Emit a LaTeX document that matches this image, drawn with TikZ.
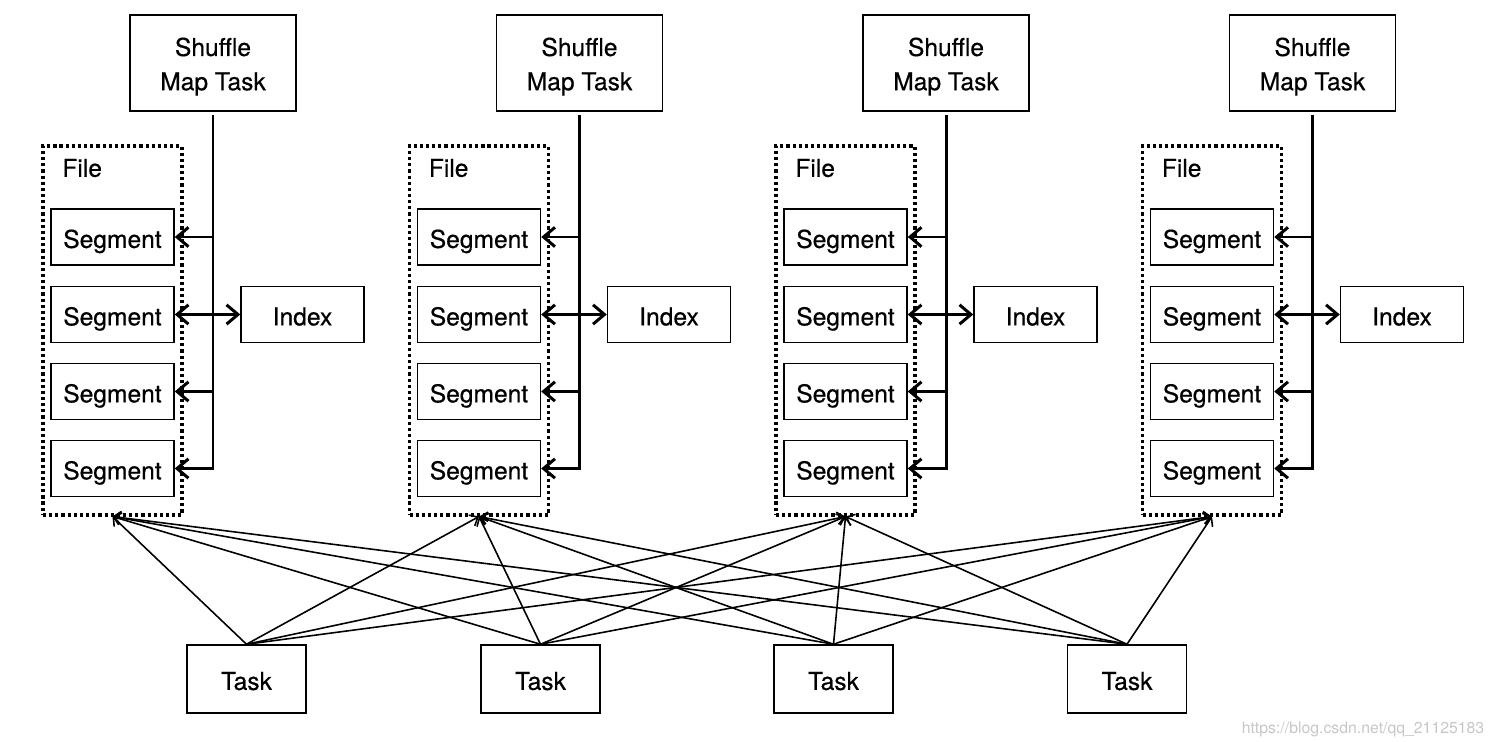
\documentclass[tikz,border=0pt]{standalone}
\usepackage{fontspec}
\setmainfont{TeX Gyre Heros}[FakeBold=0.5]
\newfontfamily\markfont{TeX Gyre Heros}
\usetikzlibrary{arrows.meta}

\tikzset{
  box/.style={draw, line width=0.85pt, inner sep=0pt, align=center,
    font=\fontsize{14}{19.5}\selectfont, text height=14.4pt, text depth=2pt},
  smtbox/.style={box, minimum width=3.32cm, minimum height=1.92cm,
    text height=33pt, text depth=2pt},
  segbox/.style={box, minimum width=2.46cm, minimum height=1.12cm},
  taskbox/.style={box, minimum width=2.38cm, minimum height=1.36cm},
  filebox/.style={draw, line width=1.8pt, dash pattern=on 1.8pt off 1.7pt,
    minimum width=2.78cm, minimum height=7.38cm, inner sep=0pt},
  bus/.style={line width=1.7pt, -{Straight Barb[length=6.5pt,width=11pt]}},
  link/.style={line width=0.9pt, -{Straight Barb[length=4pt,width=7pt]}}
}

\begin{document}
\begin{tikzpicture}[x=0.02cm,y=-0.02cm]
\useasboundingbox (0,0) rectangle (1494,742);

% map side: one column per shuffle map task
\foreach \i/\x in {1/0,2/366.5,3/733,4/1099.5}{
  \node[smtbox] (smt\i) at (\x+213,63) {Shuffle\\Map Task};
  \node[filebox] (file\i) at (\x+112.5,330.5) {};
  \node[anchor=west, font=\fontsize{14}{20}\selectfont, inner sep=0pt] (ftitle\i) at (\x+62,168) {File};
  \node[segbox] (seg\i-1) at (\x+112.5,237) {Segment};
  \node[segbox] (seg\i-2) at (\x+112.5,314.5) {Segment};
  \node[segbox] (seg\i-3) at (\x+112.5,391.5) {Segment};
  \node[segbox] (seg\i-4) at (\x+112.5,468.5) {Segment};
  \node[segbox] (idx\i) at (\x+302.5,314.5) {Index};
  \draw[bus] ([yshift=-2pt]smt\i.south) |- (seg\i-4.east);
  \draw[bus] (smt\i.south |- seg\i-1.east) -- (seg\i-1.east);
  \draw[bus] (smt\i.south |- seg\i-3.east) -- (seg\i-3.east);
  \draw[bus, {Straight Barb[length=6.5pt,width=11pt]}-{Straight Barb[length=6.5pt,width=11pt]}] (seg\i-2.east) -- (idx\i.west);
}

% reduce side
\foreach \j/\tx in {1/246.5,2/540.5,3/833.5,4/1127}{
  \node[taskbox] (task\j) at (\tx,679) {Task};
}
\foreach \j in {1,...,4}{
  \foreach \i in {1,...,4}{
    \draw[link] (task\j.north) -- (file\i.south);
  }
}

\node[text=black!22, font=\markfont\fontsize{9}{10}\selectfont, inner sep=0pt] (mark) at (1363,729) {https://blog.csdn.net/qq\_21125183};
\end{tikzpicture}
\end{document}
